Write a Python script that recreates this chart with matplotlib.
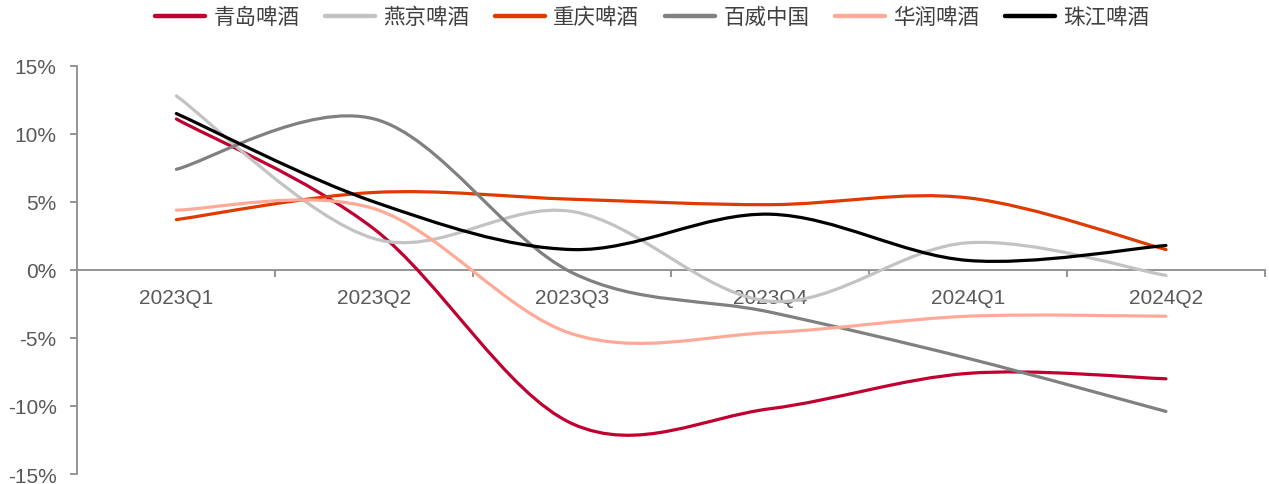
import matplotlib
matplotlib.use("Agg")
import matplotlib.pyplot as plt
from matplotlib.path import Path
from matplotlib.patches import PathPatch
from matplotlib.lines import Line2D
from matplotlib.ticker import FixedLocator, FuncFormatter

plt.rcParams['font.family'] = ['Liberation Sans', 'Noto Sans CJK SC', 'DejaVu Sans']

quarters = ['2023Q1', '2023Q2', '2023Q3', '2023Q4', '2024Q1', '2024Q2']
tsingtao = [11.1, 3.0, -11.3, -10.2, -7.6, -8.0]
yanjing = [12.8, 2.3, 4.3, -2.3, 2.0, -0.4]
chongqing = [3.7, 5.7, 5.2, 4.8, 5.3, 1.5]
budweiser = [7.4, 11.1, -0.2, -3.1, -6.5, -10.4]
crbeer = [4.4, 4.5, -4.7, -4.6, -3.4, -3.4]
pearl = [11.5, 5.0, 1.5, 4.1, 0.7, 1.8]

series = [
    ('青岛啤酒', tsingtao, '#C00030'),
    ('燕京啤酒', yanjing, '#C3C3C3'),
    ('重庆啤酒', chongqing, '#E03A00'),
    ('百威中国', budweiser, '#808080'),
    ('华润啤酒', crbeer, '#FFAA98'),
    ('珠江啤酒', pearl, '#000000'),
]


def smooth_path(ys):
    # excel-style smoothed line: cubic bezier through each point
    n = len(ys)
    pts = list(zip(range(n), ys))
    verts = [pts[0]]
    codes = [Path.MOVETO]
    for i in range(n - 1):
        p0 = pts[max(i - 1, 0)]
        p1 = pts[i]
        p2 = pts[i + 1]
        p3 = pts[min(i + 2, n - 1)]
        c1 = (p1[0] + (p2[0] - p0[0]) / 6, p1[1] + (p2[1] - p0[1]) / 6)
        c2 = (p2[0] - (p3[0] - p1[0]) / 6, p2[1] - (p3[1] - p1[1]) / 6)
        verts += [c1, c2, p2]
        codes += [Path.CURVE4] * 3
    return Path(verts, codes)


fig = plt.figure(figsize=(12.69, 4.85), dpi=100)
ax = fig.add_axes([0.061, 0.0206, 0.9358, 0.8414])

axis_col = '#8C8C8C'
text_col = '#595959'

for name, vals, col in series:
    ax.add_patch(PathPatch(smooth_path(vals), facecolor='none', edgecolor=col,
                           lw=2.3, capstyle='round', zorder=3))

ax.set_xlim(-0.5, len(quarters) - 0.5)
ax.set_ylim(-15, 15)

for s in ['top', 'right']:
    ax.spines[s].set_visible(False)
ax.spines['left'].set_color(axis_col)
ax.spines['left'].set_linewidth(1.3)
ax.spines['bottom'].set_position(('data', 0))
ax.spines['bottom'].set_color(axis_col)
ax.spines['bottom'].set_linewidth(1.3)

ax.set_yticks([-15, -10, -5, 0, 5, 10, 15])
ax.yaxis.set_major_formatter(FuncFormatter(lambda v, p: f'{v:.0f}%'))
ax.tick_params(axis='y', direction='out', length=5, width=1.3, color=axis_col,
               labelsize=15, labelcolor=text_col, pad=10)

ax.set_xticks(range(len(quarters)))
ax.set_xticklabels(quarters)
ax.xaxis.set_minor_locator(FixedLocator([i + 0.5 for i in range(len(quarters))]))
ax.tick_params(axis='x', which='major', length=0, labelsize=15,
               labelcolor=text_col, pad=13)
ax.tick_params(axis='x', which='minor', direction='out', length=5, width=1.3,
               color=axis_col)

handles = [Line2D([], [], color=c, lw=3.2, solid_capstyle='round') for _, _, c in series]
labels = [n for n, _, _ in series]
fig.legend(handles, labels, loc='upper center', bbox_to_anchor=(0.514, 1.025), ncol=6,
           frameon=False, handlelength=2.3, handletextpad=0.4, columnspacing=1.2,
           prop={'family': ['Noto Sans CJK SC', 'DejaVu Sans'], 'size': 15.5},
           labelcolor='#404040')

fig.savefig('out.png', dpi=100)
